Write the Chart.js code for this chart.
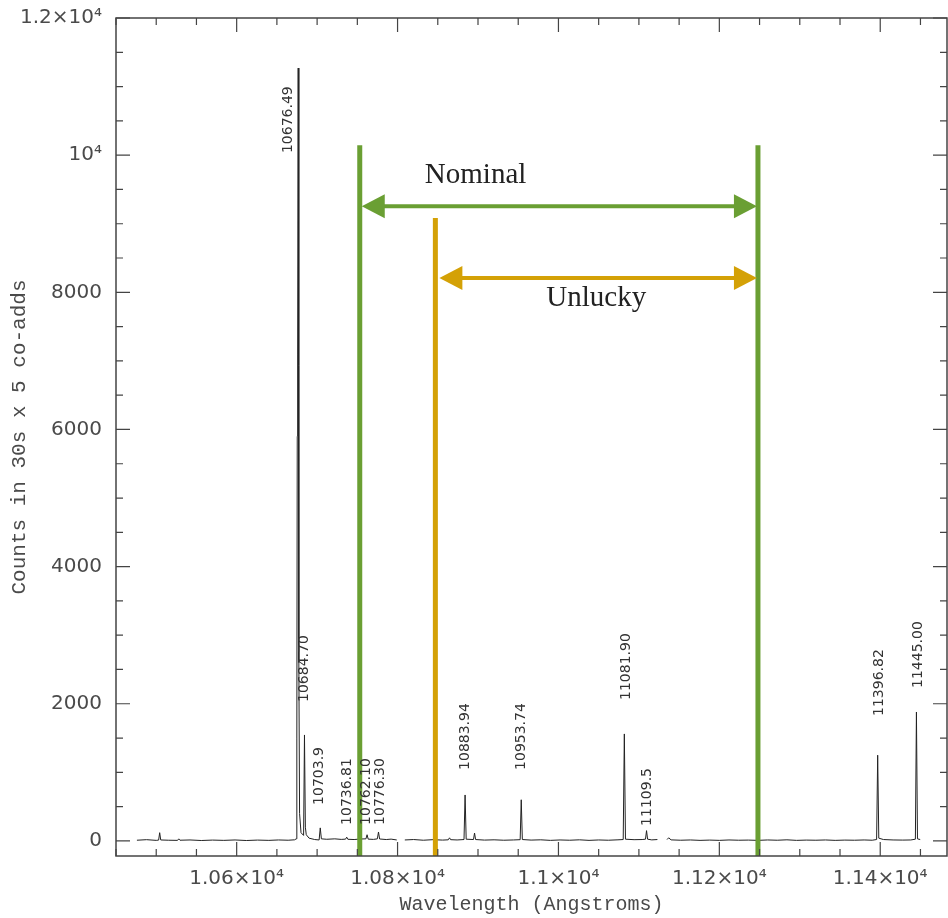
<!DOCTYPE html>
<html>
<head>
<meta charset="utf-8">
<script src="https://cdn.jsdelivr.net/npm/chart.js@4"></script>
<style>
  body { margin: 0; background: #fff; }
</style>
</head>
<body>
<canvas id="spektrum" width="948" height="918"></canvas>
<script>
// segmen 1 spektrum (Angstrom, counts)
const seg1Wave = [10476, 10488, 10500, 10503, 10504.3, 10505.6, 10515, 10526.5, 10528, 10529.5, 10542, 10556, 10570, 10584,
  10598, 10612, 10626, 10640, 10652, 10664, 10672, 10674.0, 10674.8, 10675.3, 10675.8, 10676.49, 10677.3, 10678.2, 10680,
  10683.2, 10684.3, 10685.4, 10686.5, 10690, 10697, 10702.5, 10703.9, 10705.3, 10712, 10722, 10730, 10735.4, 10736.8,
  10738.2, 10746, 10754, 10760.7, 10762.1, 10763.5, 10770, 10774.9, 10776.3, 10777.7, 10786, 10792, 10799];
const seg1Counts = [10, 18, 8, 12, 120, 14, 10, 8, 30, 10, 14, 6, 12, 8,
  14, 6, 12, 8, 14, 10, 16, 30, 1500, 5900, 7100, 11270, 2600, 400, 120,
  80, 1545, 200, 90, 40, 20, 14, 190, 30, 24, 30, 22, 26, 55,
  24, 20, 28, 30, 90, 26, 22, 30, 130, 28, 20, 26, 14];

// segmen 2
const seg2Wave = [10809, 10820, 10832, 10844, 10856, 10863, 10864.6, 10866, 10874, 10882.6, 10883.94, 10885.3, 10894.4,
  10895.7, 10897, 10908, 10920, 10932, 10944, 10952.4, 10953.74, 10955.1, 10966, 10978, 10990, 11002, 11014, 11026,
  11038, 11050, 11062, 11074, 11080.5, 11081.9, 11083.3, 11094, 11104, 11108.2, 11109.5, 11110.8, 11116, 11123];
const seg2Counts = [14, 20, 10, 18, 12, 16, 45, 18, 14, 20, 670, 25, 20,
  115, 20, 12, 16, 10, 14, 18, 600, 20, 12, 16, 8, 14, 10, 16,
  8, 14, 10, 16, 20, 1560, 25, 18, 20, 25, 150, 25, 15, 20];

// segmen 3
const seg3Wave = [11135, 11137, 11140, 11152, 11164, 11176, 11188, 11200, 11212, 11224, 11236, 11248, 11260, 11272,
  11284, 11296, 11308, 11320, 11332, 11344, 11356, 11368, 11380, 11390, 11395.5, 11396.82, 11398.2, 11404, 11416,
  11428, 11438, 11443.7, 11445.0, 11446.3, 11449.7];
const seg3Counts = [20, 45, 15, 10, 14, 8, 12, 8, 14, 10, 12, 8, 14, 10,
  16, 8, 12, 10, 14, 8, 12, 10, 14, 10, 20, 1250, 40, 20, 14,
  12, 14, 25, 1880, 30, 20];

// label garis (nama, posisi x label dalam Angstrom, dasar label dalam counts)
const lineNames = ['10676.49', '10684.70', '10703.9', '10736.81', '10762.10', '10776.30', '10883.94', '10953.74',
  '11081.90', '11109.5', '11396.82', '11445.00'];
const labelWave = [10664.6, 10684.5, 10703, 10738, 10761.5, 10779, 10884.5, 10954.4, 11084, 11111, 11398.8, 11447.6];
const labelBase = [10030, 2026, 525, 233, 233, 233, 1035, 1035, 2055, 219, 1822, 2230];

// batas jendela filter
const nominalWave = [10753, 11248];
const nominalTop = 10146;
const unluckyWave = [10847, 11248];
const unluckyTop = 9082;
const nominalArrowY = 9256;
const unluckyArrowY = 8207;

// tick: minor tiap 50 A / 500 counts, label di tick mayor
const xTicks = [10450, 10500, 10550, 10600, 10650, 10700, 10750, 10800, 10850, 10900, 10950, 11000, 11050, 11100,
  11150, 11200, 11250, 11300, 11350, 11400, 11450];
const yTicks = [0, 500, 1000, 1500, 2000, 2500, 3000, 3500, 4000, 4500, 5000, 5500, 6000, 6500, 7000, 7500, 8000,
  8500, 9000, 9500, 10000, 10500, 11000, 11500, 12000];
const xTickLabels = {10600: '1.06×10⁴', 10800: '1.08×10⁴', 11000: '1.1×10⁴', 11200: '1.12×10⁴', 11400: '1.14×10⁴'};
const yTickLabels = {0: '0', 2000: '2000', 4000: '4000', 6000: '6000', 8000: '8000', 10000: '10⁴', 12000: '1.2×10⁴'};

const Y_MIN = -220;
const GREEN = '#6a9f33';
const ORANGE = '#d4a106';

function toPoints(w, c) {
  return w.map((v, i) => ({x: v, y: c[i]}));
}

const spectrum = [
  ...toPoints(seg1Wave, seg1Counts),
  {x: 10804, y: null},
  ...toPoints(seg2Wave, seg2Counts),
  {x: 11129, y: null},
  ...toPoints(seg3Wave, seg3Counts)
];

function vline(wave, top) {
  return [{x: wave, y: Y_MIN}, {x: wave, y: top}];
}

function arrow(ctx, x1, x2, y, color) {
  const head = 23, half = 12;
  ctx.strokeStyle = color;
  ctx.fillStyle = color;
  ctx.lineWidth = 4;
  ctx.beginPath();
  ctx.moveTo(x1 + head - 2, y);
  ctx.lineTo(x2 - head + 2, y);
  ctx.stroke();
  ctx.beginPath();
  ctx.moveTo(x1, y); ctx.lineTo(x1 + head, y - half); ctx.lineTo(x1 + head, y + half); ctx.closePath();
  ctx.fill();
  ctx.beginPath();
  ctx.moveTo(x2, y); ctx.lineTo(x2 - head, y - half); ctx.lineTo(x2 - head, y + half); ctx.closePath();
  ctx.fill();
}

// bingkai, tick ke dalam, panah dan teks
const overlay = {
  id: 'overlay',
  afterDraw(chart) {
    const {ctx, chartArea: a, scales: {x, y}} = chart;
    ctx.save();
    ctx.strokeStyle = '#444';
    ctx.lineWidth = 1.5;
    ctx.strokeRect(a.left, a.top, a.right - a.left, a.bottom - a.top);

    ctx.lineWidth = 1.2;
    ctx.beginPath();
    x.ticks.forEach(t => {
      const px = x.getPixelForValue(t.value);
      const len = xTickLabels[t.value] ? 14 : 7;
      ctx.moveTo(px, a.bottom); ctx.lineTo(px, a.bottom - len);
      ctx.moveTo(px, a.top); ctx.lineTo(px, a.top + len);
    });
    y.ticks.forEach(t => {
      const py = y.getPixelForValue(t.value);
      const len = yTickLabels[t.value] ? 14 : 7;
      ctx.moveTo(a.left, py); ctx.lineTo(a.left + len, py);
      ctx.moveTo(a.right, py); ctx.lineTo(a.right - len, py);
    });
    ctx.stroke();

    // label garis, diputar
    ctx.fillStyle = '#333';
    ctx.font = '14px "DejaVu Sans"';
    ctx.textAlign = 'left';
    ctx.textBaseline = 'middle';
    lineNames.forEach((name, i) => {
      ctx.save();
      ctx.translate(x.getPixelForValue(labelWave[i]), y.getPixelForValue(labelBase[i]));
      ctx.rotate(-Math.PI / 2);
      ctx.fillText(name, 0, 0);
      ctx.restore();
    });

    // panah
    arrow(ctx, x.getPixelForValue(nominalWave[0]) + 2, x.getPixelForValue(nominalWave[1]) - 1,
      y.getPixelForValue(nominalArrowY), GREEN);
    arrow(ctx, x.getPixelForValue(unluckyWave[0]) + 4, x.getPixelForValue(unluckyWave[1]) - 1,
      y.getPixelForValue(unluckyArrowY), ORANGE);

    ctx.fillStyle = '#222';
    ctx.font = '29px "Liberation Serif"';
    ctx.textAlign = 'center';
    ctx.fillText('Nominal', x.getPixelForValue(10897), y.getPixelForValue(9708));
    ctx.fillText('Unlucky', x.getPixelForValue(11047), y.getPixelForValue(7915));
    ctx.restore();
  }
};

new Chart(document.getElementById('spektrum'), {
  type: 'line',
  data: {
    datasets: [
      {data: vline(nominalWave[0], nominalTop), borderColor: GREEN, borderWidth: 5},
      {data: vline(nominalWave[1], nominalTop), borderColor: GREEN, borderWidth: 5},
      {data: vline(unluckyWave[0], unluckyTop), borderColor: ORANGE, borderWidth: 5},
      {data: spectrum, borderColor: '#222', borderWidth: 1, spanGaps: false}
    ]
  },
  options: {
    responsive: false,
    animation: false,
    layout: {padding: {top: 18, right: 1, left: 0, bottom: 0}},
    elements: {point: {radius: 0}, line: {tension: 0}},
    plugins: {legend: {display: false}, tooltip: {enabled: false}},
    scales: {
      x: {
        type: 'linear',
        min: 10450,
        max: 11483,
        grid: {display: false, drawTicks: false},
        border: {display: false},
        ticks: {
          autoSkip: false,
          maxRotation: 0,
          padding: 11,
          color: '#4a4a4a',
          font: {family: 'DejaVu Sans', size: 20},
          callback: v => xTickLabels[v] || ''
        },
        title: {
          display: true,
          text: 'Wavelength (Angstroms)',
          color: '#4a4a4a',
          font: {family: 'Liberation Mono', size: 20},
          padding: {top: 0, bottom: 1}
        },
        afterBuildTicks: s => { s.ticks = xTicks.map(v => ({value: v})); },
        afterFit: s => { s.height = 62; s.paddingLeft = 0; s.paddingRight = 0; }
      },
      y: {
        min: Y_MIN,
        max: 12000,
        grid: {display: false, drawTicks: false},
        border: {display: false},
        ticks: {
          autoSkip: false,
          padding: 14,
          color: '#4a4a4a',
          font: {family: 'DejaVu Sans', size: 20},
          callback: v => yTickLabels[v] || ''
        },
        title: {
          display: true,
          text: 'Counts in 30s x 5 co-adds',
          color: '#4a4a4a',
          font: {family: 'Liberation Mono', size: 21},
          padding: {top: 7, bottom: 0}
        },
        afterBuildTicks: s => { s.ticks = yTicks.map(v => ({value: v})); },
        afterFit: s => { s.width = 116; s.paddingTop = 0; s.paddingBottom = 0; }
      }
    }
  },
  plugins: [overlay]
});
</script>
</body>
</html>
